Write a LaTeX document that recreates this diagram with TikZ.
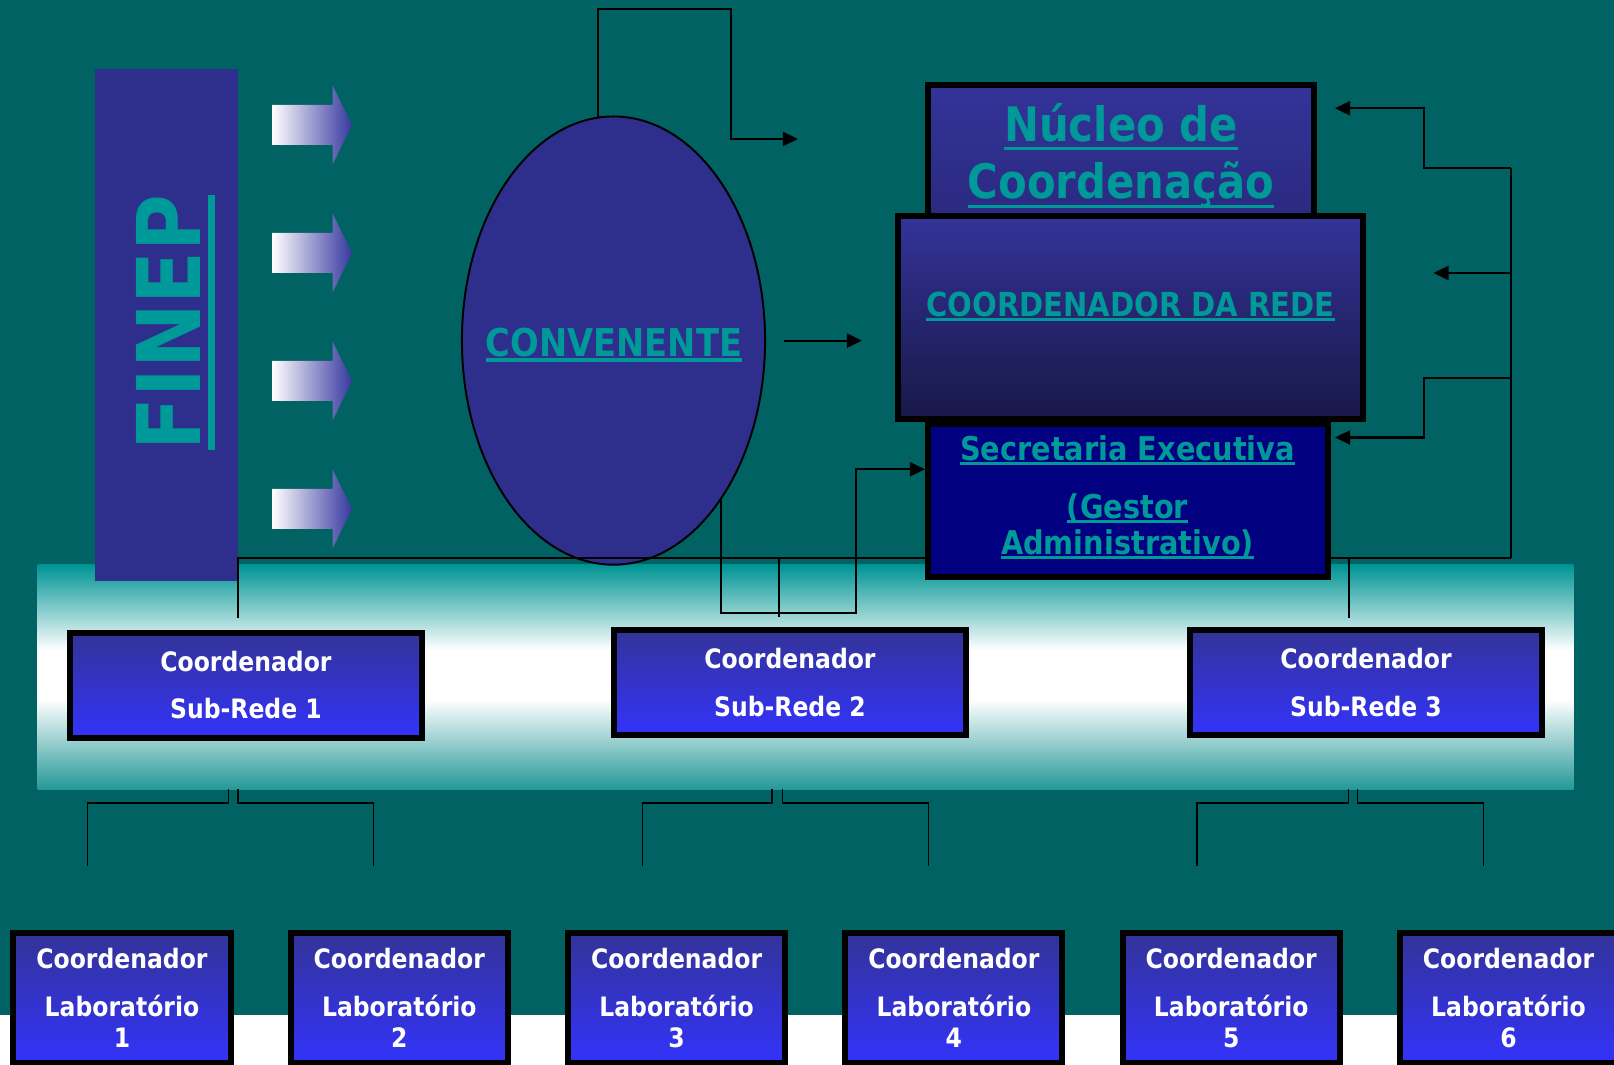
\documentclass[tikz,border=0pt]{standalone}
\usepackage{fontspec}
\setmainfont{DejaVu Sans}[FakeStretch=0.88]
\usetikzlibrary{arrows.meta,shapes.geometric}
\definecolor{bgteal}{RGB}{0,98,98}
\definecolor{titleteal}{RGB}{0,153,153}
\definecolor{finepblue}{RGB}{46,46,140}
\definecolor{arrowblue}{RGB}{56,56,160}
\definecolor{boxtop}{RGB}{51,51,153}
\definecolor{boxbright}{RGB}{51,51,250}
\definecolor{nucleobottom}{RGB}{42,42,128}
\definecolor{redebottom}{RGB}{24,24,72}
\definecolor{secnavy}{RGB}{0,0,128}
\definecolor{bandtop}{RGB}{0,148,148}
\definecolor{bandbottom}{RGB}{38,152,152}
\pgfdeclareverticalshading{bandshade}{100bp}{color(0bp)=(bandbottom); color(25bp)=(bandbottom); color(45bp)=(white); color(56bp)=(white); color(75bp)=(bandtop); color(100bp)=(bandtop)}
\newcommand{\ulbox}[3]{\leavevmode\setbox0=\hbox{#3}\rlap{\vrule height -#1 depth \dimexpr #1+#2\relax width \wd0}\box0}

\begin{document}
\begin{tikzpicture}[x=0.01cm, y=-0.01cm,
	link/.style={line width=0.45pt},
	flow/.style={line width=0.6pt, -{Triangle[length=0.15cm, width=0.14cm]}},
	boxframe/.style={draw, line width=0.06cm, inner sep=0pt},
	headtext/.style={text=titleteal, font=\bfseries, inner sep=0pt, align=center},
	subbox/.style={boxframe, top color=boxtop, bottom color=boxbright, minimum width=3.52cm, minimum height=1.05cm, text=white, align=center, font=\bfseries\fontsize{7.6}{13.5}\selectfont},
	labbox/.style={subbox, minimum width=2.17cm, minimum height=1.30cm, font=\bfseries\fontsize{7.6}{9}\selectfont}]
	\useasboundingbox (0,0) rectangle (1614,1065);
	\clip (0,0) rectangle (1614,1065);
	\fill[white] (0,0) rectangle (1614,1065);
	\fill[bgteal] (0,0) rectangle (1614,1015);

	\node[minimum width=15.35cm, minimum height=2.24cm, inner sep=0pt, shading=bandshade] (band) at (805.5,677) {};
	\node[fill=finepblue, minimum width=1.431cm, minimum height=5.12cm, inner sep=0pt] (finep) at (166.3,325) {};
	\node[headtext, rotate=90, font=\bfseries\fontsize{25}{30}\selectfont] (finepname) at (176,322.5) {\ulbox{1.9pt}{2.2pt}{FINEP}};
	\foreach \y in {125,253,381,509}
		\shade[left color=white, right color=arrowblue] (272,\y-20) -- (332.6,\y-20) -- (332.6,\y-39.5) -- (352,\y) -- (332.6,\y+39.5) -- (332.6,\y+20) -- (272,\y+20) -- cycle;
	\node[ellipse, draw, line width=0.55pt, fill=finepblue, minimum width=3.03cm, minimum height=4.48cm, inner sep=0pt] (convenente) at (613.5,340.6) {};

	\coordinate (topend) at (798,139);
	\coordinate (convout) at (784,340.6);
	\coordinate (convin) at (862,340.6);
	\coordinate (secwest) at (925,469.3);
	\coordinate (bus west) at (238,558);
	\coordinate (bus east) at (1511,558);
	\coordinate (nucleoin) at (1335,108.3);
	\coordinate (redein) at (1433.5,273);
	\coordinate (secin) at (1335,437.5);

	\draw[flow] (convenente.94) |- (731,9) |- (topend);
	\draw[flow] (convout) -- (convin);
	\draw[flow] (convenente.304.5) |- (856,613) |- (secwest);
	\draw[link] (bus east) -- (bus west) -- (238,618);
	\draw[link] (779,558) -- (779,617);
	\draw[link] (1349,558) -- (1349,618);
	\draw[link] (bus east) -- (1511,167.6);
	\draw[flow] (1511,167.6) -| (1424,108.3) -- (nucleoin);
	\draw[flow] (1511,273) -- (redein);
	\draw[flow] (1511,378) -| (1424,437.5) -- (secin);

	\path (1121,152) node[boxframe, top color=boxtop, bottom color=nucleobottom, minimum width=3.86cm, minimum height=1.34cm] (nucleo){}
		(1128,500.5) node[boxframe, fill=secnavy, minimum width=4.00cm, minimum height=1.53cm] (secretaria){}
		(1130.5,317.5) node[boxframe, top color=boxtop, bottom color=redebottom, minimum width=4.65cm, minimum height=2.03cm] (rede){};
	\node[headtext, font=\bfseries\fontsize{10.9}{13}\selectfont] (convtext) at (614,345) {\ulbox{0.5pt}{1.1pt}{CONVENENTE}};
	\node[headtext, font=\bfseries\fontsize{13.5}{16.3}\selectfont] (nucleotext) at (1121,156) {\ulbox{1.6pt}{0.9pt}{Núcleo de}\\\ulbox{1.6pt}{0.9pt}{Coordenação}};
	\node[headtext, font=\bfseries\fontsize{9.4}{11}\selectfont] (redetext) at (1130.5,306.5) {\ulbox{0.4pt}{1pt}{COORDENADOR DA REDE}};
	\node[headtext, font=\bfseries\fontsize{9.3}{10.4}\selectfont] (sectext) at (1127.5,497.5) {\ulbox{0.4pt}{0.8pt}{Secretaria Executiva}\\[6pt]\ulbox{0.4pt}{0.8pt}{(Gestor}\\\ulbox{0.4pt}{0.8pt}{Administrativo)}};

	\path (246,685.3) node[subbox] (sub1){Coordenador\\Sub-Rede 1}
		(790,682.5) node[subbox] (sub2){Coordenador\\Sub-Rede 2}
		(1366,682.5) node[subbox] (sub3){Coordenador\\Sub-Rede 3};
	\foreach \a/\b in {228.5/87.5, 237.8/373.6, 772/642.3, 782.3/928.5, 1348.4/1197, 1357.7/1483.3}
		\draw[link] (\a,789) |- (\b,802.8) -- (\b,866.4);
	\foreach \n in {1,...,6}
		\node[labbox] (lab\n) at ({122+277.3*(\n-1)},998) {Coordenador\\[4.6pt]Laboratório\\\n};
\end{tikzpicture}
\end{document}
